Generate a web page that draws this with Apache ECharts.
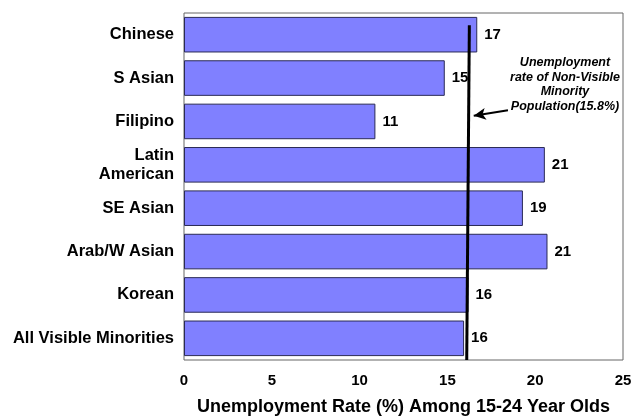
<!DOCTYPE html>
<html>
<head>
<meta charset="utf-8">
<script src="https://cdn.jsdelivr.net/npm/echarts@6/dist/echarts.min.js"></script>
<style>
    html, body { margin: 0; padding: 0; background: #fff; }
    #chart { width: 633px; height: 418px; }
</style>
</head>
<body>
<div id="chart"></div>
<script>
// groups, top to bottom
const categories = ['Chinese', 'S Asian', 'Filipino', 'Latin\nAmerican', 'SE Asian', 'Arab/W Asian', 'Korean', 'All Visible Minorities']
// bar lengths
const rates = [16.7, 14.85, 10.9, 20.55, 19.3, 20.7, 16.2, 15.95]
const xTicks = [0, 5, 10, 15, 20, 25]

// reference line for non-visible minority population (bottom -> top, y in band units 0..8)
const refLine = [[16.1, 0], [16.25, 7.72]]
// arrow from the note to the line
const arrowFrom = [18.45, 5.76]
const arrowTo = [16.5, 5.63]
const noteLines = ['Unemployment', 'rate of Non-Visible', 'Minority', 'Population(15.8%)']

const font = 'Liberation Sans, Arial, sans-serif'
const chart = echarts.init(document.getElementById('chart'))

chart.setOption({
    animation: false,
    grid: {
        left: 184,
        right: 10,
        top: 13,
        bottom: 58,
        outerBoundsMode: 'none',
        show: true,
        borderColor: '#666',
        borderWidth: 1
    },
    xAxis: {
        type: 'value',
        min: xTicks[0],
        max: xTicks[xTicks.length - 1],
        interval: 5,
        axisLine: { show: false },
        axisTick: { show: false },
        splitLine: { show: false },
        axisLabel: {
            margin: 13,
            color: '#000',
            fontFamily: font,
            fontWeight: 'bold',
            fontSize: 15
        },
        name: 'Unemployment Rate (%) Among 15-24 Year Olds',
        nameLocation: 'middle',
        nameGap: 38,
        nameTextStyle: {
            color: '#000',
            fontFamily: font,
            fontWeight: 'bold',
            fontSize: 18
        }
    },
    yAxis: [{
        type: 'category',
        data: categories,
        inverse: true,
        axisLine: { show: false },
        axisTick: { show: false },
        axisLabel: {
            margin: 10,
            color: '#000',
            fontFamily: font,
            fontWeight: 'bold',
            fontSize: 16.5,
            lineHeight: 19
        }
    }, {
        type: 'value',
        min: 0,
        max: 8,
        show: false
    }],
    series: [{
        type: 'bar',
        data: rates,
        barCategoryGap: '18%',
        itemStyle: {
            color: '#8080ff',
            borderColor: '#2a2a55',
            borderWidth: 1
        },
        label: {
            show: true,
            position: 'right',
            distance: 7,
            color: '#000',
            fontFamily: font,
            fontWeight: 'bold',
            fontSize: 15,
            formatter: p => Math.round(p.value)
        }
    }, {
        type: 'line',
        yAxisIndex: 1,
        data: refLine,
        symbol: 'none',
        lineStyle: { color: '#000', width: 3 },
        z: 5,
        markLine: {
            silent: true,
            symbol: ['none', 'arrow'],
            symbolSize: [9, 12],
            label: { show: false },
            lineStyle: { color: '#000', width: 2, type: 'solid' },
            data: [[{ coord: arrowFrom }, { coord: arrowTo }]]
        }
    }],
    graphic: [{
        type: 'text',
        x: 565,
        y: 55,
        style: {
            text: noteLines.join('\n'),
            align: 'center',
            fill: '#000',
            font: 'italic bold 12.5px ' + font,
            lineHeight: 14.7
        }
    }]
})
</script>
</body>
</html>
